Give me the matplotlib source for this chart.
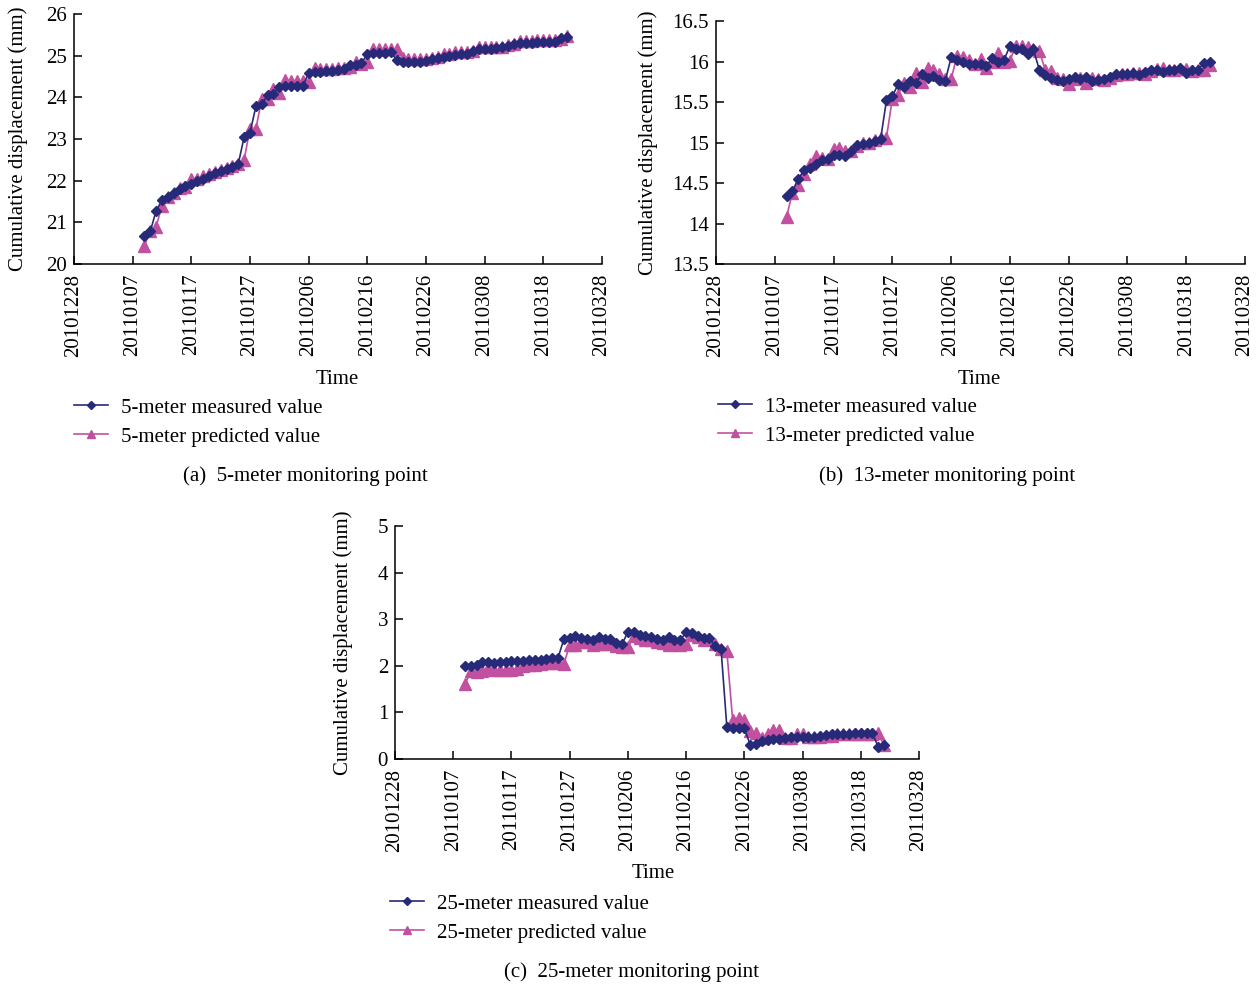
import numpy as np
import pandas as pd
import matplotlib
matplotlib.use("Agg")
import matplotlib.pyplot as plt
import matplotlib.dates as mdates
from matplotlib.ticker import FuncFormatter, MultipleLocator

plt.rcParams['font.family'] = ['Liberation Serif', 'DejaVu Serif']
plt.rcParams['font.size'] = 15

# daily readings, 2011-01-09 .. 2011-03-22
dates = pd.date_range('2011-01-09', '2011-03-22', freq='D')

meas_5 = [20.67, 20.78, 21.28, 21.53, 21.61, 21.71, 21.80, 21.88, 21.93, 22.00,
          22.05, 22.10, 22.18, 22.23, 22.28, 22.33, 22.40, 23.05, 23.15, 23.78,
          23.83, 24.05, 24.09, 24.25, 24.27, 24.27, 24.27, 24.27, 24.58, 24.62,
          24.62, 24.63, 24.63, 24.65, 24.68, 24.77, 24.77, 24.82, 25.04, 25.07,
          25.07, 25.07, 25.08, 24.90, 24.86, 24.86, 24.85, 24.86, 24.87, 24.92,
          24.95, 24.98, 25.00, 25.02, 25.03, 25.05, 25.12, 25.15, 25.15, 25.16,
          25.18, 25.20, 25.23, 25.27, 25.30, 25.30, 25.31, 25.32, 25.32, 25.33,
          25.34, 25.42, 25.46]
pred_5 = [20.43, 20.80, 20.90, 21.40, 21.60, 21.70, 21.82, 21.85, 22.05, 22.05,
          22.10, 22.15, 22.20, 22.25, 22.30, 22.35, 22.40, 22.50, 23.25, 23.25,
          23.95, 23.95, 24.20, 24.10, 24.42, 24.40, 24.40, 24.40, 24.38, 24.70,
          24.68, 24.68, 24.68, 24.70, 24.70, 24.73, 24.85, 24.80, 24.85, 25.15,
          25.15, 25.15, 25.15, 25.15, 24.95, 24.92, 24.92, 24.92, 24.92, 24.95,
          24.98, 25.05, 25.05, 25.08, 25.08, 25.10, 25.12, 25.20, 25.20, 25.20,
          25.20, 25.22, 25.25, 25.28, 25.35, 25.35, 25.35, 25.37, 25.37, 25.38,
          25.38, 25.40, 25.47]

meas_13 = [14.34, 14.40, 14.55, 14.66, 14.68, 14.73, 14.78, 14.80, 14.84, 14.85,
           14.83, 14.90, 14.97, 14.98, 15.00, 15.02, 15.04, 15.52, 15.57, 15.72,
           15.68, 15.76, 15.73, 15.84, 15.80, 15.82, 15.77, 15.76, 16.05, 16.02,
           16.00, 15.97, 15.97, 15.97, 15.95, 16.04, 15.99, 16.02, 16.19, 16.16,
           16.15, 16.09, 16.15, 15.90, 15.83, 15.80, 15.77, 15.76, 15.79, 15.81,
           15.78, 15.81, 15.76, 15.77, 15.78, 15.81, 15.85, 15.85, 15.85, 15.86,
           15.83, 15.87, 15.89, 15.90, 15.87, 15.90, 15.90, 15.92, 15.86, 15.89,
           15.90, 15.98, 15.99]
pred_13 = [14.08, 14.38, 14.47, 14.61, 14.73, 14.83, 14.81, 14.80, 14.92, 14.93,
           14.89, 14.90, 14.96, 14.99, 15.00, 15.03, 15.06, 15.06, 15.54, 15.59,
           15.74, 15.69, 15.86, 15.75, 15.92, 15.90, 15.84, 15.78, 15.78, 16.07,
           16.05, 16.02, 15.97, 16.03, 15.92, 15.99, 16.10, 15.99, 16.01, 16.19,
           16.19, 16.18, 16.16, 16.13, 15.90, 15.88, 15.80, 15.78, 15.72, 15.78,
           15.80, 15.74, 15.80, 15.78, 15.77, 15.80, 15.83, 15.85, 15.85, 15.86,
           15.86, 15.85, 15.88, 15.91, 15.92, 15.89, 15.90, 15.91, 15.91, 15.88,
           15.89, 15.90, 15.96]

meas_25 = [1.99, 2.00, 2.02, 2.08, 2.08, 2.07, 2.08, 2.08, 2.10, 2.10,
           2.11, 2.12, 2.12, 2.13, 2.15, 2.16, 2.17, 2.57, 2.60, 2.63,
           2.60, 2.57, 2.56, 2.61, 2.57, 2.57, 2.49, 2.47, 2.72, 2.72,
           2.67, 2.63, 2.61, 2.57, 2.56, 2.61, 2.56, 2.55, 2.72, 2.70,
           2.65, 2.60, 2.60, 2.42, 2.36, 0.68, 0.66, 0.66, 0.66, 0.31,
           0.33, 0.39, 0.41, 0.42, 0.42, 0.46, 0.48, 0.48, 0.48, 0.48,
           0.48, 0.49, 0.51, 0.54, 0.54, 0.54, 0.54, 0.55, 0.55, 0.55,
           0.55, 0.26, 0.29]
pred_25 = [1.60, 1.88, 1.87, 1.88, 1.95, 1.92, 1.92, 1.90, 1.92, 1.94,
           1.99, 2.01, 2.02, 2.04, 2.05, 2.06, 2.06, 2.04, 2.44, 2.44,
           2.51, 2.52, 2.44, 2.47, 2.47, 2.47, 2.42, 2.40, 2.40, 2.63,
           2.60, 2.56, 2.55, 2.52, 2.49, 2.44, 2.49, 2.44, 2.47, 2.67,
           2.62, 2.56, 2.57, 2.47, 2.35, 2.31, 0.83, 0.88, 0.83, 0.60,
           0.56, 0.46, 0.53, 0.63, 0.63, 0.46, 0.46, 0.54, 0.53, 0.48,
           0.48, 0.48, 0.49, 0.49, 0.53, 0.53, 0.54, 0.54, 0.54, 0.54,
           0.54, 0.56, 0.29]

NAVY = '#262a78'
PINK = '#c150a0'

W, H = 1258, 988

panels = [
    # rect(px: left, top, right, bottom), meas, pred, depth, ylim, ystep, ylabel x, legend xy, time xy, caption xy, letter
    ((74, 14, 602, 264), meas_5, pred_5, 5, (20, 26), 1,
     18, (74, 398), (337, 379), (305, 476), 'a'),
    ((716, 21, 1245, 264), meas_13, pred_13, 13, (13.5, 16.5), 0.5,
     648, (718, 397), (979, 379), (947, 476), 'b'),
    ((395, 526, 919, 759), meas_25, pred_25, 25, (0, 5), 1,
     343, (390, 894), (653, 873), (632, 972), 'c'),
]

fig = plt.figure(figsize=(W/100, H/100), dpi=100)

for box, meas, pred, depth, ylim, ystep, ylx, leg_xy, time_xy, cap_xy, letter in panels:
    l, t, r, b = box
    ax = fig.add_axes([l/W, 1-b/H, (r-l)/W, (b-t)/H])
    ax.plot(dates, meas, color=NAVY, lw=1.2, marker='D', ms=5.5, mec=NAVY, mfc=NAVY,
            label=f'{depth}-meter measured value', zorder=3)
    ax.plot(dates, pred, color=PINK, lw=1.2, marker='^', ms=8, mec=PINK, mfc=PINK,
            label=f'{depth}-meter predicted value', zorder=2)

    ax.set_xlim(pd.Timestamp('2010-12-28'), pd.Timestamp('2011-03-28'))
    ax.set_xticks(pd.date_range('2010-12-28', '2011-03-28', freq='10D'))
    ax.xaxis.set_major_formatter(mdates.DateFormatter('%Y%m%d'))
    ax.set_ylim(*ylim)
    ax.yaxis.set_major_locator(MultipleLocator(ystep))
    ax.yaxis.set_major_formatter(FuncFormatter(lambda v, p: '%g' % v))

    for s in ['top', 'right']:
        ax.spines[s].set_visible(False)
    for s in ['left', 'bottom']:
        ax.spines[s].set_linewidth(1.1)
    ax.tick_params(axis='both', direction='in', length=6, width=1.1, labelsize=15)
    ax.tick_params(axis='x', labelrotation=90, pad=7)
    ax.tick_params(axis='y', pad=5)

    fig.text(ylx/W, 1-(t+b)/2/H, 'Cumulative displacement (mm)',
             rotation=90, ha='center', va='center')
    fig.text(time_xy[0]/W, 1-time_xy[1]/H, 'Time', ha='center', va='center')
    fig.text(cap_xy[0]/W, 1-cap_xy[1]/H, f'({letter})  {depth}-meter monitoring point',
             ha='center', va='center')

    ax.legend(loc='upper left', bbox_to_anchor=(leg_xy[0]/W, 1-leg_xy[1]/H),
              bbox_transform=fig.transFigure, frameon=False, handlelength=1.65,
              markerscale=0.7, labelspacing=0.45, borderaxespad=0, borderpad=0,
              handletextpad=0.6)

fig.savefig('out.png', dpi=100)
